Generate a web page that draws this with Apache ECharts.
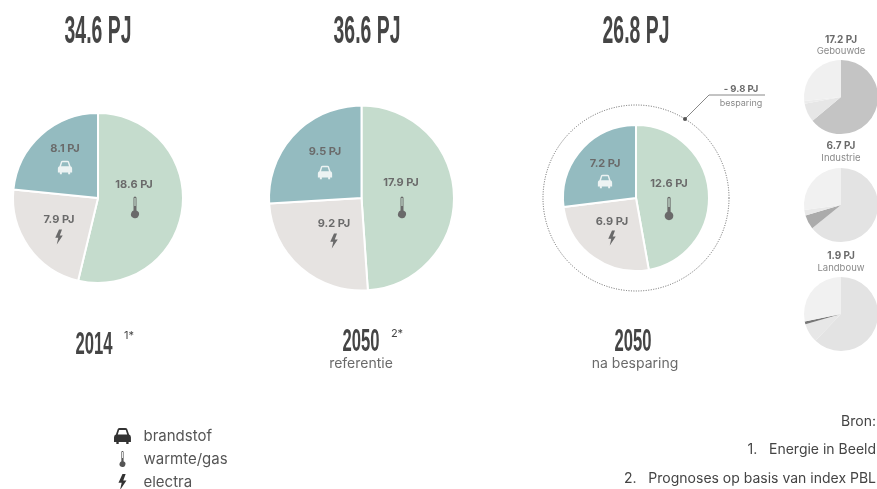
<!DOCTYPE html>
<html>
<head>
<meta charset="utf-8">
<title>Energie in PJ</title>
<script src="https://cdn.jsdelivr.net/npm/echarts@6/dist/echarts.min.js"></script>
<style>
  html, body { margin: 0; padding: 0; background: #fff; }
  #chart { width: 877px; height: 489px; }
</style>
</head>
<body>
<div id="chart"></div>
<script>
// main pies, clockwise from the top
const categories = ['warmte/gas', 'electra', 'brandstof'];
const pie2014 = [18.6, 7.9, 8.1];
const pie2050ref = [17.9, 9.2, 9.5];
const pie2050besparing = [12.6, 6.9, 7.2];

// small pies on the right, slices have no names in the picture
const smallParts = ['deel 1', 'deel 2', 'deel 3', 'deel 4'];
const gebouwde = [11.0, 1.4, 0.2, 4.6];
const industrie = [4.3, 0.42, 0.16, 1.82];
const landbouw = [1.18, 0.16, 0.024, 0.536];

const totals = ['34.6 PJ', '36.6 PJ', '26.8 PJ'];
const sectorTotals = ['17.2 PJ', '6.7 PJ', '1.9 PJ'];
const sectorNames = ['Gebouwde', 'Industrie', 'Landbouw'];

const carPath = 'M5 11L7 5Q7.5 4 9 4H15Q16.5 4 17 5L19 11Q21 11.5 21 14V19H18.5V21H16V19H8V21H5.5V19H3V14Q3 11.5 5 11ZM7 11H17L15.5 6H8.5Z';
const thermoPath = 'M10.5 3A1.5 1.5 0 0 1 13.5 3V15.5A4 4 0 1 1 10.5 15.5ZM11.4 3V11H12.6V3Z';
const boltPath = 'M12 2L7 13H11L9 22L17 10H13L16 2Z';

echarts.graphic.registerShape('carIcon', echarts.graphic.extendPath(carPath, {}));
echarts.graphic.registerShape('thermoIcon', echarts.graphic.extendPath(thermoPath, {}));
echarts.graphic.registerShape('boltIcon', echarts.graphic.extendPath(boltPath, {}));

const BODY_FONT = 'Inter, "Open Sans", sans-serif';
const HEAD_FONT = '"Liberation Sans Narrow", "Liberation Sans", sans-serif';
const TEXT_GREY = '#6a6a6a';
const DARK = '#454545';
const MAIN_COLORS = ['#c5dccd', '#e6e3e1', '#94bbc0'];

function mainPie(values, center, radius, labelPos) {
  return {
    type: 'pie',
    center: center,
    radius: radius,
    startAngle: 90,
    silent: true,
    animation: false,
    itemStyle: { borderColor: '#fff', borderWidth: 2 },
    label: {
      position: 'inside',
      formatter: '{c} PJ',
      color: TEXT_GREY,
      fontFamily: BODY_FONT,
      fontWeight: 'bold',
      fontSize: 11
    },
    labelLine: { show: false },
    labelLayout: function (p) {
      return { x: labelPos[p.dataIndex][0], y: labelPos[p.dataIndex][1], align: 'center', verticalAlign: 'middle' };
    },
    data: categories.map(function (name, i) {
      return { name: name, value: values[i], itemStyle: { color: MAIN_COLORS[i] } };
    })
  };
}

function smallPie(values, center, colors) {
  return {
    type: 'pie',
    center: center,
    radius: 37,
    startAngle: 90,
    silent: true,
    animation: false,
    label: { show: false },
    labelLine: { show: false },
    data: smallParts.map(function (name, i) {
      return { name: name, value: values[i], itemStyle: { color: colors[i] } };
    })
  };
}

function headText(text, x, y, size, scaleX) {
  return {
    type: 'text', x: x, y: y, scaleX: scaleX,
    style: { text: text, x: 0, y: 0, align: 'center', verticalAlign: 'middle', fontFamily: HEAD_FONT, fontWeight: 'bold', fontSize: size, fill: DARK }
  };
}

function bodyText(text, x, y, size, opts) {
  opts = opts || {};
  return {
    type: 'text', x: x, y: y,
    style: {
      text: text, x: 0, y: 0, align: opts.align || 'center', verticalAlign: 'middle',
      fontFamily: BODY_FONT, fontWeight: opts.weight || 'normal', fontSize: size, fill: opts.color || TEXT_GREY
    }
  };
}

// icon paths live in a 24 unit box
function icon(type, cx, cy, size, color) {
  const s = size / 24;
  return { type: type, z: 100, x: cx - size / 2, y: cy - size / 2, scaleX: s, scaleY: s, style: { fill: color || TEXT_GREY } };
}

const CAR_FILL = '#edf3f3';

const graphics = [
  headText(totals[0], 98, 33, 38, 0.51),
  headText(totals[1], 367, 33, 38, 0.51),
  headText(totals[2], 636, 33, 38, 0.51),

  headText('2014', 94, 345, 32, 0.52),
  bodyText('1*', 129, 336, 11, { color: DARK }),
  headText('2050', 361, 342, 32, 0.52),
  bodyText('2*', 397, 334, 11, { color: DARK }),
  bodyText('referentie', 361, 364, 14),
  headText('2050', 633, 342, 32, 0.52),
  bodyText('na besparing', 635, 364, 14),

  // icons on the main pies
  icon('thermoIcon', 135, 207, 24), icon('carIcon', 65, 167, 19, CAR_FILL), icon('boltIcon', 59, 237, 18),
  icon('thermoIcon', 402, 207, 24), icon('carIcon', 325, 172, 19, CAR_FILL), icon('boltIcon', 334, 241, 18),
  icon('thermoIcon', 669, 208, 26), icon('carIcon', 605, 181, 19, CAR_FILL), icon('boltIcon', 612, 238, 18),

  // besparing ring and callout
  {
    type: 'circle',
    shape: { cx: 636, cy: 198, r: 93 },
    style: { fill: 'none', stroke: '#666', lineWidth: 1, lineDash: [1, 1.5] }
  },
  {
    type: 'polyline',
    shape: { points: [[685, 119], [709, 95], [765, 95]] },
    style: { fill: 'none', stroke: '#888', lineWidth: 1 }
  },
  { type: 'circle', shape: { cx: 685, cy: 119, r: 2 }, style: { fill: '#555' } },
  bodyText('- 9.8 PJ', 741, 89, 9.5, { weight: 'bold' }),
  bodyText('besparing', 741, 103, 9, { color: '#8a8a8a' }),

  // sector headers
  bodyText(sectorTotals[0], 841, 40, 10, { weight: 'bold' }),
  bodyText(sectorNames[0], 841, 51, 9.5, { color: '#8a8a8a' }),
  bodyText(sectorTotals[1], 841, 146, 10, { weight: 'bold' }),
  bodyText(sectorNames[1], 841, 158, 9.5, { color: '#8a8a8a' }),
  bodyText(sectorTotals[2], 841, 256, 10, { weight: 'bold' }),
  bodyText(sectorNames[2], 841, 268, 9.5, { color: '#8a8a8a' }),

  // bronnen
  bodyText('Bron:', 876, 422, 14, { align: 'right', color: '#444' }),
  bodyText('1.   Energie in Beeld', 876, 450, 14, { align: 'right', color: '#444' }),
  bodyText('2.   Prognoses op basis van index PBL', 876, 479, 14, { align: 'right', color: '#444' })
];

const chart = echarts.init(document.getElementById('chart'), null, { renderer: 'canvas' });
chart.setOption({
  backgroundColor: '#fff',
  animation: false,
  tooltip: { show: false },
  legend: {
    orient: 'vertical',
    left: 109,
    top: 423,
    height: 90,
    itemWidth: 18,
    itemHeight: 16,
    itemGap: 7,
    selectedMode: false,
    itemStyle: { borderWidth: 0 },
    textStyle: { fontFamily: BODY_FONT, fontSize: 15, color: '#555', padding: [0, 0, 0, 7] },
    data: [
      { name: 'brandstof', icon: 'path://' + carPath, itemStyle: { color: '#333', borderWidth: 0 } },
      { name: 'warmte/gas', icon: 'path://' + thermoPath, itemStyle: { color: '#555', borderWidth: 0 } },
      { name: 'electra', icon: 'path://' + boltPath, itemStyle: { color: '#333', borderWidth: 0 } }
    ]
  },
  series: [
    mainPie(pie2014, [98, 198], 85, [[134, 185], [59, 220], [65, 149]]),
    mainPie(pie2050ref, [361.5, 198], 92.5, [[401, 183], [334, 224], [325, 152]]),
    mainPie(pie2050besparing, [636, 198], 73, [[669, 184], [612, 222], [605, 164]]),
    smallPie(gebouwde, [841, 97], ['#c4c4c4', '#e6e6e6', '#ececec', '#f0f0f0']),
    smallPie(industrie, [841, 205], ['#e3e3e3', '#ababab', '#e9e9e9', '#f1f1f1']),
    smallPie(landbouw, [841, 314], ['#e3e3e3', '#e7e7e7', '#777777', '#f1f1f1'])
  ],
  graphic: graphics
});
</script>
</body>
</html>
